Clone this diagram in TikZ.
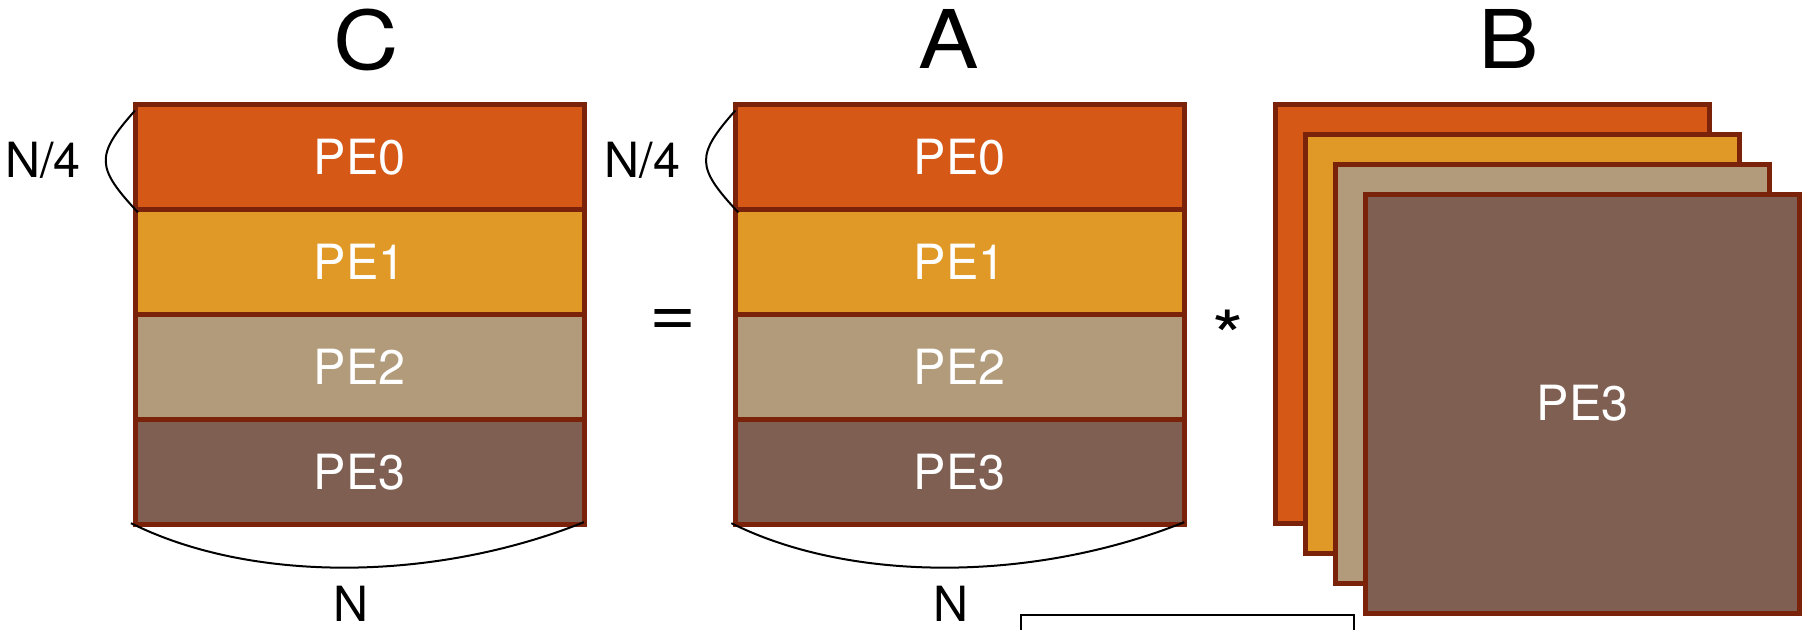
\documentclass[tikz,border=0pt]{standalone}
\usepackage{fontspec}
\setmainfont{TeX Gyre Heros}
\newfontfamily\titlefont[FakeStretch=1.12]{TeX Gyre Heros}
\definecolor{peorange}{RGB}{213,88,23}
\definecolor{pegold}{RGB}{224,152,38}
\definecolor{petan}{RGB}{178,155,123}
\definecolor{pebrown}{RGB}{127,95,82}
\definecolor{peline}{RGB}{123,34,10}
\newcommand\pefont{\fontsize{48.5}{50}\selectfont}
\newcommand\bigfont{\titlefont\fontsize{81}{84}\selectfont}
\newcommand\opfont{\titlefont\fontsize{72}{76}\selectfont}
\begin{document}
\begin{tikzpicture}
  [x=1pt,y=-1pt,every node/.style={font=\pefont,inner sep=0pt,outer sep=0pt},
   row/.style={rectangle,draw=peline,line width=5pt,minimum width=449pt,minimum height=104.9pt,text=white},
   sheet/.style={rectangle,draw=peline,line width=5pt,minimum width=434pt,minimum height=419pt,text=white},
   brace/.style={black,line width=2pt}]
  \useasboundingbox (0,0) rectangle (1803,629);
  \clip (0,0) rectangle (1803,629);

  % C = A * B
  \node (tc) [font=\bigfont] at (366.5,40) {C};
  \node (ta) [font=\bigfont] at (949,39) {A};
  \node (tb) [font=\bigfont] at (1508.5,39) {B};

  \node (c0)[row,fill=peorange] at (359.5,157) {PE0};
  \node (c1)[row,fill=pegold] at (359.5,261.9) {PE1};
  \node (c2)[row,fill=petan] at (359.5,366.8) {PE2};
  \node (c3)[row,fill=pebrown] at (359.5,471.7) {PE3};

  \node (a0)[row,fill=peorange] at (959.8,157) {PE0};
  \node (a1)[row,fill=pegold] at (959.8,261.9) {PE1};
  \node (a2)[row,fill=petan] at (959.8,366.8) {PE2};
  \node (a3)[row,fill=pebrown] at (959.8,471.7) {PE3};

  \node (b0)[sheet,fill=peorange] at (1492.5,313.5) {};
  \node (b1)[sheet,fill=pegold] at (1522.5,343.5) {};
  \node (b2)[sheet,fill=petan] at (1552.5,373.5) {};
  \node (b3)[sheet,fill=pebrown] at (1582.5,403.5) {PE3};

  \node (eq) [font=\opfont] at (673,323) {=};
  \node (times) [font=\opfont] at (1228,336) {*};

  \node (nc4) [anchor=base] at (43,177) {N/4};
  \node (na4) [anchor=base] at (642.5,177) {N/4};
  \node (nc) [anchor=base] at (351,621) {N};
  \node (na) [anchor=base] at (951,621) {N};

  \node (keybox) [draw,line width=2pt,anchor=north west,minimum width=333pt,minimum height=60pt] at (1021,615) {};

  \foreach \m in {c,a}
  {
    \draw[brace] ([yshift=-6pt]\m0.north west) .. controls +(-40,45) and +(-42,-45) .. ([xshift=3pt,yshift=-3pt]\m0.south west);
    \draw[brace] ([xshift=-4pt,yshift=1pt]\m3.south west) .. controls +(120,60) and +(-150,60) .. ([yshift=2pt]\m3.south east);
  }
\end{tikzpicture}
\end{document}
